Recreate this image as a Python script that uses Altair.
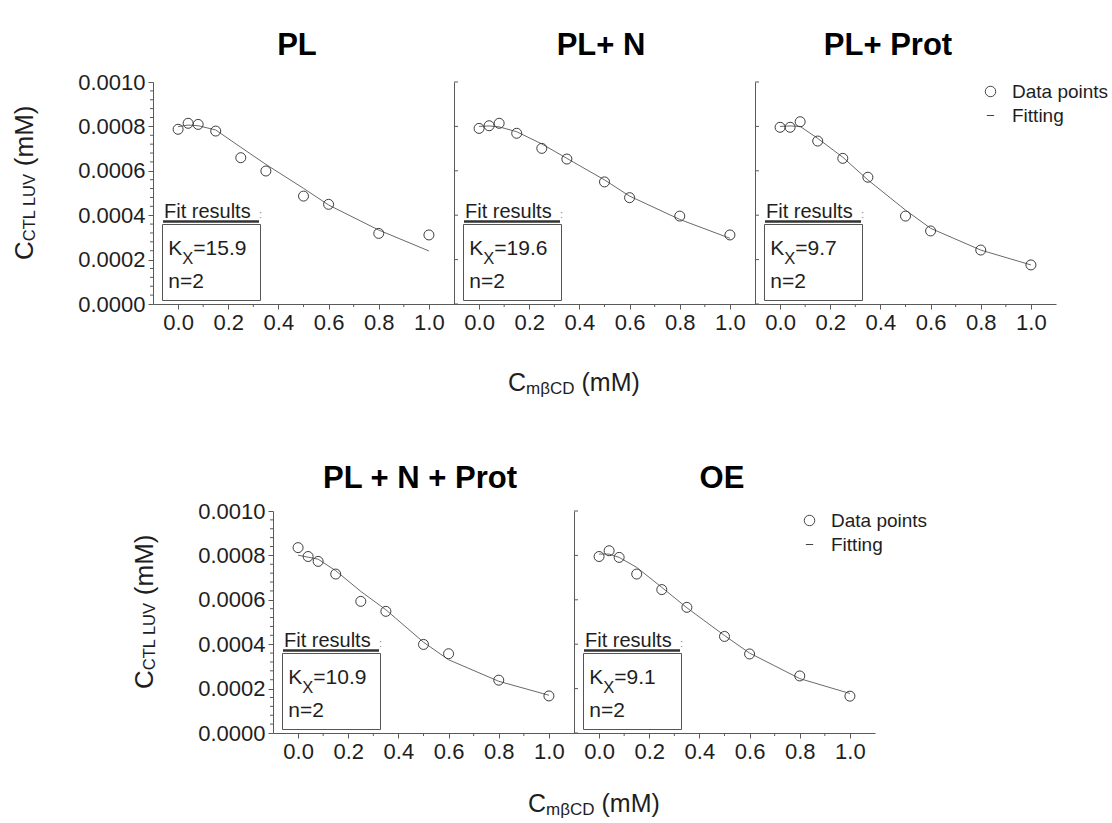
import altair as alt
import pandas as pd

# ---------------- data ----------------
x_conc = [0.0, 0.04, 0.08, 0.15, 0.25, 0.35, 0.5, 0.6, 0.8, 1.0]

panel_titles = ["PL", "PL+ N", "PL+ Prot", "PL + N + Prot", "OE"]
kx_values = ["15.9", "19.6", "9.7", "10.9", "9.1"]
n_values = ["2", "2", "2", "2", "2"]
legend_labels = ["Data points", "Fitting"]

pl_points = [0.000787, 0.000814, 0.000809, 0.000779, 0.000659, 0.000599, 0.000486, 0.000449, 0.000318, 0.000311]
pl_fit = [0.000799, 0.000806, 0.000803, 0.000784, 0.000706, 0.000629, 0.000521, 0.000446, 0.000333, 0.000239]
pln_points = [0.000791, 0.000803, 0.000814, 0.000769, 0.000701, 0.000653, 0.000550, 0.000479, 0.000396, 0.000311]
pln_fit = [0.000800, 0.000802, 0.000798, 0.000776, 0.000721, 0.000656, 0.000559, 0.000486, 0.000381, 0.000296]
plp_points = [0.000796, 0.000796, 0.000821, 0.000734, 0.000656, 0.000571, 0.000396, 0.000329, 0.000243, 0.000176]
plp_fit = [0.000800, 0.000802, 0.000800, 0.000746, 0.000661, 0.000559, 0.000423, 0.000341, 0.000243, 0.000176]
plnp_points = [0.000835, 0.000795, 0.000773, 0.000716, 0.000593, 0.000548, 0.000399, 0.000357, 0.000238, 0.000167]
plnp_fit = [0.000801, 0.000792, 0.000783, 0.000731, 0.000638, 0.000555, 0.000409, 0.000330, 0.000233, 0.000170]
oe_points = [0.000795, 0.000821, 0.000791, 0.000716, 0.000646, 0.000566, 0.000435, 0.000356, 0.000257, 0.000166]
oe_fit = [0.000806, 0.000806, 0.000791, 0.000746, 0.000656, 0.000564, 0.000439, 0.000360, 0.000245, 0.000178]

x_tick_values = [0.0, 0.2, 0.4, 0.6, 0.8, 1.0]
x_minor_values = [0.1, 0.3, 0.5, 0.7, 0.9]
y_tick_values = [0.0, 0.0002, 0.0004, 0.0006, 0.0008, 0.0010]
y_minor_values = [0.00004, 0.00008, 0.00012, 0.00016, 0.00024, 0.00028, 0.00032, 0.00036,
                  0.00044, 0.00048, 0.00052, 0.00056, 0.00064, 0.00068, 0.00072, 0.00076,
                  0.00084, 0.00088, 0.00092, 0.00096]

# ---------------- layout / style ----------------
PW, PH = 301, 222                 # one panel's plot area
PANEL_ORIGIN = [(0, 0), (301, 0), (602, 0), (120, 429), (421, 429)]
VIEW_W, VIEW_H = 903, 651
TXT = "#1e1e1e"
AX = "#5a5a5a"
LAB_FONT = "Liberation Sans"
TITLE_FONT = "Liberation Sans"
ARIAL = {"C": .722, "T": .611, "L": .556, " ": .278, "U": .722, "V": .667, "m": .833,
         "\u03b2": .575, "D": .722, "(": .333, ")": .333, "M": .833, "K": .667, "X": .667}


def tw(s, size):
    return sum(ARIAL.get(c, 0.556) for c in s) * size


def txt(text, x, y, size, **kw):
    df = pd.DataFrame({"t": [text]})
    props = dict(font=LAB_FONT, fontSize=size, align="left", baseline="alphabetic", color=TXT)
    props.update(kw)
    return alt.Chart(df).mark_text(**props).encode(text="t:N", x=alt.value(x), y=alt.value(y))


def ytitle_layers(ox, oy):
    F, S = 26, 16.5
    xb, y0 = ox - 120, oy + 178
    wc = tw("C", F)
    ws = tw("CTL LUV", S)
    wsp = tw(" ", F)
    return [
        txt("C", xb, y0, F, angle=270),
        txt("CTL LUV", xb + 1.5, y0 - wc, S, angle=270),
        txt("(mM)", xb, y0 - wc - ws - wsp, F, angle=270),
    ]


def xtitle_layers(x0, yb):
    F, S = 25, 17
    wc = tw("C", F)
    ws = tw("m\u03b2CD", S)
    wsp = tw(" ", F)
    return [
        txt("C", x0, yb, F),
        txt("m\u03b2CD", x0 + wc, yb + 3, S),
        txt("(mM)", x0 + wc + ws + wsp, yb, F),
    ]


def make_panel(idx, pts, fit, first, legend, title_x, title_y, xtitle=None):
    ox, oy = PANEL_ORIGIN[idx]
    xs = alt.Scale(domain=[-0.1, 1.1], range=[ox, ox + PW], nice=False, zero=False)
    ys = alt.Scale(domain=[0.0, 0.001], range=[oy + PH, oy], nice=False, zero=False)
    x_axis = alt.Axis(orient="bottom", offset=(oy + PH) - VIEW_H, values=x_tick_values,
                      format=".1f", title=None, grid=False, tickSize=5,
                      tickColor=AX, domainColor=AX, labelFont=LAB_FONT, labelFontSize=22,
                      labelColor=TXT, labelPadding=3, labelFlush=False, labelOverlap=False)
    if first:
        y_axis = alt.Axis(orient="left", offset=-ox, values=y_tick_values, format=".4f",
                          title=None, grid=False, tickSize=5, tickColor=AX, domainColor=AX,
                          labelFont=LAB_FONT, labelFontSize=22, labelColor=TXT,
                          labelPadding=3, labelFlush=False, labelOverlap=False)
    else:
        y_axis = alt.Axis(orient="left", offset=-ox, values=y_tick_values, labels=False,
                          ticks=False, title=None, grid=False, domainColor=AX)

    layers = []
    # minor ticks on x (outward)
    layers.append(alt.Chart(pd.DataFrame({"v": x_minor_values})).mark_rule(color=AX, strokeWidth=1).encode(
        x=alt.X("v:Q", scale=xs, axis=x_axis), y=alt.value(oy + PH), y2=alt.value(oy + PH + 3)))
    if first:
        layers.append(alt.Chart(pd.DataFrame({"v": y_minor_values})).mark_rule(color=AX, strokeWidth=1).encode(
            y=alt.Y("v:Q", scale=ys, axis=y_axis), x=alt.value(ox - 3), x2=alt.value(ox)))
    else:
        layers.append(alt.Chart(pd.DataFrame({"v": y_tick_values})).mark_rule(color=AX, strokeWidth=1).encode(
            y=alt.Y("v:Q", scale=ys, axis=y_axis), x=alt.value(ox), x2=alt.value(ox + 4)))

    fit_df = pd.DataFrame({"x": x_conc, "y": fit})
    layers.append(alt.Chart(fit_df).mark_line(color="#6a6a6a", strokeWidth=1).encode(
        x=alt.X("x:Q", scale=xs, axis=x_axis), y=alt.Y("y:Q", scale=ys, axis=y_axis)))

    df = pd.DataFrame({"x": x_conc, "y": pts, "series": [legend_labels[0]] * len(x_conc)})
    enc = dict(x=alt.X("x:Q", scale=xs, axis=x_axis), y=alt.Y("y:Q", scale=ys, axis=y_axis))
    if legend:
        enc["shape"] = alt.Shape(
            "series:N",
            scale=alt.Scale(domain=legend_labels, range=["circle", "M-0.7,0L0.7,0"]),
            legend=alt.Legend(title=None, orient="none", legendX=ox + 226, legendY=oy,
                              labelFont=LAB_FONT, labelFontSize=19, labelColor=TXT,
                              symbolSize=110, symbolStrokeColor="#444",
                              symbolFillColor="transparent", symbolStrokeWidth=1,
                              labelOffset=12, rowPadding=4, padding=0))
    layers.append(alt.Chart(df).mark_point(size=100, color="#3c3c3c", filled=False,
                                           strokeWidth=1, opacity=1).encode(**enc))

    # panel title
    layers.append(txt(panel_titles[idx], ox + title_x, oy + title_y, 31, font=TITLE_FONT,
                      fontWeight="bold", align="center", color="#000000"))

    # "Fit results" box
    layers.append(txt("Fit results", ox + 11, oy + 136, 20))
    layers.append(alt.Chart(pd.DataFrame({"t": [""]})).mark_rule(color="#333333", strokeWidth=2.5).encode(
        x=alt.value(ox + 10), x2=alt.value(ox + 106), y=alt.value(oy + 139.5)))
    layers.append(txt(":", ox + 106, oy + 136, 11, color="#888888"))
    layers.append(alt.Chart(pd.DataFrame({"t": [""]})).mark_rect(
        fillOpacity=0, stroke="#555555", strokeWidth=1).encode(
        x=alt.value(ox + 9.5), x2=alt.value(ox + 107.5),
        y=alt.value(oy + 142.5), y2=alt.value(oy + 218.5)))
    layers.append(txt("K", ox + 15.3, oy + 173, 21))
    layers.append(txt("X", ox + 15.3 + tw("K", 21), oy + 182, 16.5))
    layers.append(txt("=" + kx_values[idx], ox + 15.3 + tw("K", 21) + tw("X", 16.5), oy + 173, 21))
    layers.append(txt("n=" + n_values[idx], ox + 15.3, oy + 206, 21))

    if first:
        layers.extend(ytitle_layers(ox, oy))
    if xtitle is not None:
        layers.extend(xtitle_layers(ox + xtitle[0], oy + xtitle[1]))

    return alt.layer(*layers)


p1 = make_panel(0, pl_points, pl_fit, True, False, 144, -27)
p2 = make_panel(1, pln_points, pln_fit, False, False, 147, -27, xtitle=(54, 309))
p3 = make_panel(2, plp_points, plp_fit, False, True, 133, -27)
p4 = make_panel(3, plnp_points, plnp_fit, True, False, 147, -23, xtitle=(255, 301))
p5 = make_panel(4, oe_points, oe_fit, False, True, 148, -23)

chart = alt.layer(p1, p2, p3, p4, p5).resolve_scale(
    x="independent", y="independent", shape="independent"
).resolve_axis(
    x="independent", y="independent"
).resolve_legend(
    shape="independent"
).properties(
    width=VIEW_W, height=VIEW_H,
    autosize=alt.AutoSizeParams(type="none"),
    padding={"left": 153, "top": 82, "right": 1112 - 153 - VIEW_W, "bottom": 823 - 82 - VIEW_H},
    background="#ffffff",
).configure_view(strokeWidth=0)

chart.save("out.html", embed_options={"renderer": "svg", "actions": False})
